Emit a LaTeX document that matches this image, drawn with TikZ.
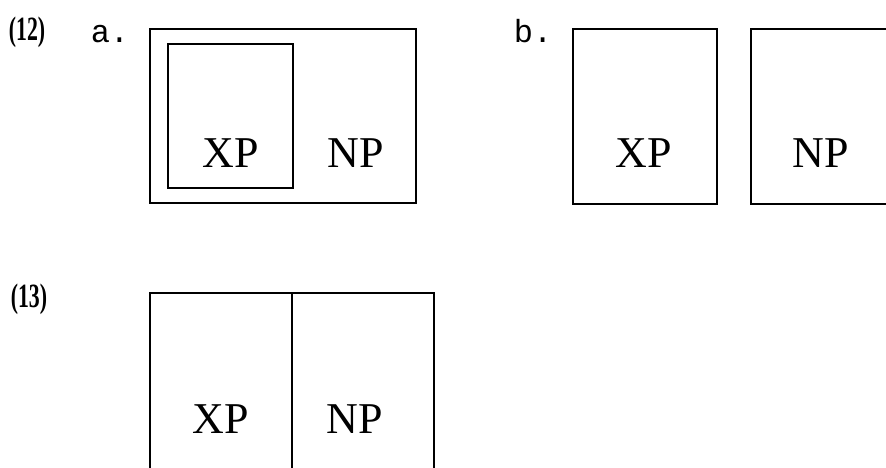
\documentclass[tikz,border=0pt]{standalone}
\usepackage{fontspec}
\setmainfont{Liberation Serif}
\newfontfamily\monof{Liberation Mono}
\begin{document}
\begin{tikzpicture}[x=1pt,y=-1pt,
  box/.style={draw,line width=1.9pt},
  cat/.style={font=\fontsize{44}{46}\selectfont,inner sep=0pt,anchor=base},
  num/.style={font=\bfseries\fontsize{34}{36}\selectfont,xscale=0.64,inner sep=0pt,anchor=base},
  lett/.style={font=\monof\fontsize{32}{34}\selectfont,inner sep=0pt,anchor=base}]
\useasboundingbox (0,0) rectangle (886,467);
\begin{scope}
\clip (0,0) rectangle (886,467);
% (12a)
\node[num] (n12) at (27,40) {(12)};
\node[lett] (la) at (110,42) {a.};
\draw[box] (150,29) rectangle (416,203);
\draw[box] (168,44) rectangle (293,188);
\node[cat] (xpa) at (231,167) {XP};
\node[cat] (npa) at (356,167) {NP};
% (12b)
\node[lett] (lb) at (533,42) {b.};
\draw[box] (573,29) rectangle (717,204);
\draw[box] (751,29) rectangle (900,204);
\node[cat] (xpb) at (644,167) {XP};
\node[cat] (npb) at (821,167) {NP};
% (13)
\node[num] (n13) at (29,307) {(13)};
\draw[box] (150,480) -- (150,293) -- (434,293) -- (434,480);
\draw[box] (292,293) -- (292,480);
\node[cat] (xpc) at (221,433) {XP};
\node[cat] (npc) at (355,433) {NP};
\end{scope}
\end{tikzpicture}
\end{document}
